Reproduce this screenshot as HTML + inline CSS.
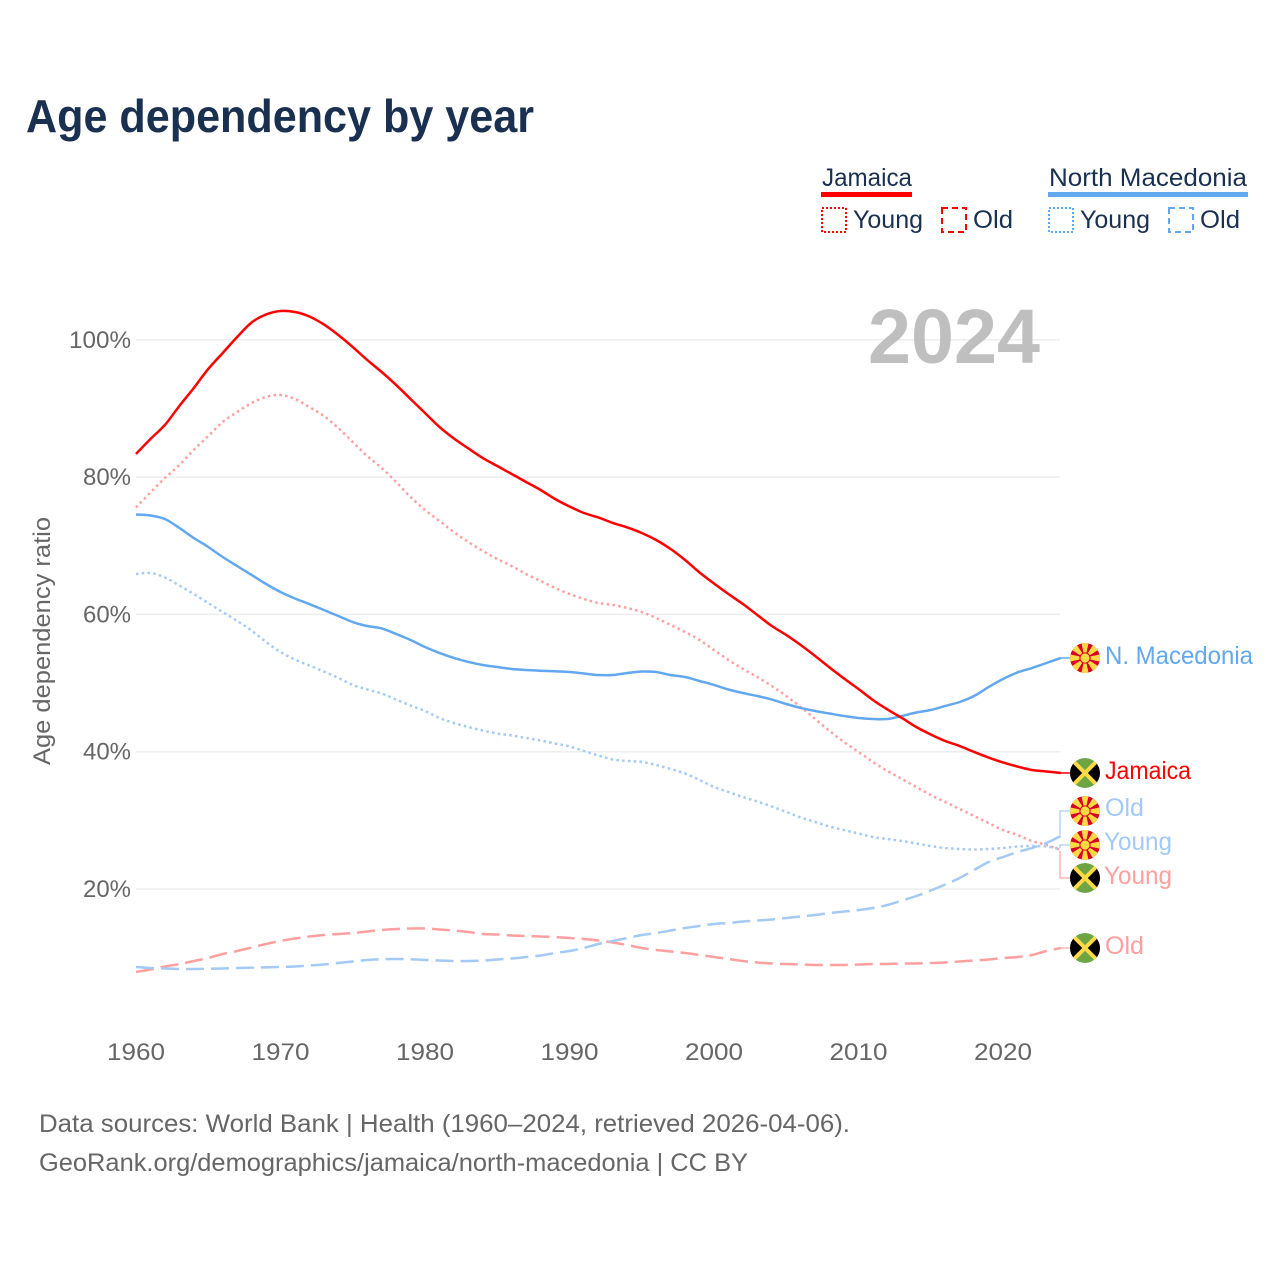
<!DOCTYPE html>
<html lang="en">
<head>
<meta charset="utf-8">
<title>Age dependency by year</title>
<style>
html,body{margin:0;padding:0;background:#fff}
svg{display:block}
text{font-family:"Liberation Sans",sans-serif}
</style>
</head>
<body>
<svg id="chart" xmlns="http://www.w3.org/2000/svg" width="1280" height="1280" viewBox="0 0 1280 1280">
<defs>
<clipPath id="flag-clip"><circle cx="0" cy="0" r="15"/></clipPath>
<g id="flag-mk" clip-path="url(#flag-clip)">
<circle r="15" fill="#d80027"/>
<g fill="#ffda44">
<polygon points="-1.2,-4 1.2,-4 3.8,-16 -3.8,-16"/>
<polygon points="-1.2,-4 1.2,-4 3.8,-16 -3.8,-16" transform="rotate(45)"/>
<polygon points="-1.2,-4 1.2,-4 3.8,-16 -3.8,-16" transform="rotate(90)"/>
<polygon points="-1.2,-4 1.2,-4 3.8,-16 -3.8,-16" transform="rotate(135)"/>
<polygon points="-1.2,-4 1.2,-4 3.8,-16 -3.8,-16" transform="rotate(180)"/>
<polygon points="-1.2,-4 1.2,-4 3.8,-16 -3.8,-16" transform="rotate(225)"/>
<polygon points="-1.2,-4 1.2,-4 3.8,-16 -3.8,-16" transform="rotate(270)"/>
<polygon points="-1.2,-4 1.2,-4 3.8,-16 -3.8,-16" transform="rotate(315)"/>
</g>
<circle r="5.6" fill="#d80027"/>
<circle r="4.6" fill="#ffda44"/>
</g>
<g id="flag-jm" clip-path="url(#flag-clip)">
<circle r="15" fill="#6da544"/>
<polygon points="-16,-14 0,0 -16,14" fill="#000"/>
<polygon points="16,-14 0,0 16,14" fill="#000"/>
<line x1="-11" y1="-11" x2="11" y2="11" stroke="#ffda44" stroke-width="4"/>
<line x1="-11" y1="11" x2="11" y2="-11" stroke="#ffda44" stroke-width="4"/>
</g>
</defs>

<text x="26" y="132" font-size="46" font-weight="700" fill="#1a3050" textLength="508" lengthAdjust="spacingAndGlyphs">Age dependency by year</text>

<g font-size="25" fill="#1a3050">
<text x="822" y="186" textLength="90" lengthAdjust="spacingAndGlyphs">Jamaica</text>
<rect x="821" y="192" width="91" height="5" fill="#ff0000"/>
<rect x="822" y="208" width="24" height="24" fill="none" stroke="#ff0000" stroke-width="2" stroke-dasharray="2 2"/>
<text x="853" y="228" textLength="70" lengthAdjust="spacingAndGlyphs">Young</text>
<rect x="942" y="208" width="24" height="24" fill="none" stroke="#ff0000" stroke-width="2" stroke-dasharray="6 4"/>
<text x="973" y="228" textLength="40" lengthAdjust="spacingAndGlyphs">Old</text>
<text x="1049" y="186" textLength="198" lengthAdjust="spacingAndGlyphs">North Macedonia</text>
<rect x="1048" y="192" width="200" height="5" fill="#62a8ee"/>
<rect x="1049" y="208" width="24" height="24" fill="none" stroke="#62a8ee" stroke-width="2" stroke-dasharray="2 2"/>
<text x="1080" y="228" textLength="70" lengthAdjust="spacingAndGlyphs">Young</text>
<rect x="1169" y="208" width="24" height="24" fill="none" stroke="#62a8ee" stroke-width="2" stroke-dasharray="6 4"/>
<text x="1200" y="228" textLength="40" lengthAdjust="spacingAndGlyphs">Old</text>
</g>

<g id="grid"></g>
<g id="y-ticks"></g>
<g id="x-ticks"></g>

<text x="868" y="363" font-size="77" font-weight="700" fill="#bfbfbf" textLength="172" lengthAdjust="spacingAndGlyphs">2024</text>
<text transform="translate(50,765) rotate(-90)" x="0" y="0" font-size="24" fill="#666" textLength="248" lengthAdjust="spacingAndGlyphs">Age dependency ratio</text>

<g id="series"></g>

<g fill="none" stroke-width="1.5">
<path d="M1060 658H1072" stroke="#62a8ee"/>
<path d="M1060 773H1072" stroke="#ff0000"/>
<path d="M1060 835V811H1072" stroke="#b5d5f7"/>
<path d="M1060 848V845H1072" stroke="#b5d5f7"/>
<path d="M1060 851V878H1072" stroke="#ffb5b5"/>
<path d="M1060 948H1072" stroke="#ffb5b5"/>
</g>

<g font-size="25">
<use href="#flag-mk" x="1085" y="658"/>
<text x="1105" y="664" fill="#62a8ee" textLength="148" lengthAdjust="spacingAndGlyphs">N. Macedonia</text>
<use href="#flag-jm" x="1085" y="773"/>
<text x="1105" y="779" fill="#ff0000" textLength="86" lengthAdjust="spacingAndGlyphs">Jamaica</text>
<use href="#flag-mk" x="1085" y="811"/>
<text x="1105" y="816" fill="#a3caf4" textLength="39" lengthAdjust="spacingAndGlyphs">Old</text>
<use href="#flag-mk" x="1085" y="845"/>
<text x="1104" y="850" fill="#a3caf4" textLength="68" lengthAdjust="spacingAndGlyphs">Young</text>
<use href="#flag-jm" x="1085" y="878"/>
<text x="1104" y="884" fill="#ff9f9f" textLength="68" lengthAdjust="spacingAndGlyphs">Young</text>
<use href="#flag-jm" x="1085" y="948"/>
<text x="1105" y="954" fill="#ff9f9f" textLength="39" lengthAdjust="spacingAndGlyphs">Old</text>
</g>

<g font-size="25" fill="#666">
<text x="39" y="1132" textLength="811" lengthAdjust="spacingAndGlyphs">Data sources: World Bank | Health (1960–2024, retrieved 2026-04-06).</text>
<text x="39" y="1171" textLength="709" lengthAdjust="spacingAndGlyphs">GeoRank.org/demographics/jamaica/north-macedonia | CC BY</text>
</g>
</svg>

<script>
const startYear = 1960;

const jamaicaTotal = [
83.37,85.55,87.6,90.36,92.98,95.75,98.08,100.41,102.52,103.69,
104.2,104.05,103.39,102.23,100.7,98.95,97.06,95.31,93.42,91.38,
89.34,87.3,85.62,84.17,82.78,81.62,80.45,79.29,78.12,76.81,
75.72,74.77,74.12,73.32,72.66,71.86,70.84,69.53,67.92,66.1,
64.5,62.97,61.51,59.91,58.31,57.0,55.54,53.94,52.27,50.66,
49.13,47.53,46.15,44.91,43.6,42.51,41.56,40.83,39.96,39.15,
38.43,37.84,37.33,37.12,36.9];

const jamaicaYoung = [
75.57,77.76,79.87,81.76,83.95,85.99,88.03,89.48,90.79,91.67,
91.96,91.38,90.21,88.9,87.15,85.11,83.07,81.33,79.29,77.1,
75.21,73.61,72.0,70.55,69.24,68.07,67.05,65.88,64.87,63.85,
62.97,62.24,61.66,61.37,60.93,60.35,59.48,58.46,57.44,56.27,
54.81,53.36,52.05,50.88,49.57,48.11,46.51,44.76,43.02,41.41,
39.96,38.5,37.19,36.02,34.86,33.69,32.67,31.65,30.63,29.61,
28.59,27.87,26.99,26.41,25.68];

const jamaicaOld = [
7.91,8.27,8.71,9.07,9.51,9.95,10.53,10.97,11.48,11.99,
12.43,12.79,13.08,13.3,13.45,13.59,13.81,14.03,14.17,14.25,
14.25,14.1,13.95,13.74,13.45,13.37,13.23,13.15,13.08,13.01,
12.86,12.72,12.5,12.21,11.84,11.41,11.11,10.9,10.68,10.39,
10.09,9.8,9.51,9.29,9.15,9.07,9.0,8.93,8.93,8.93,
9.0,9.07,9.07,9.15,9.15,9.22,9.29,9.44,9.58,9.73,
9.95,10.09,10.39,10.97,11.41];

const macedoniaTotal = [
74.55,74.41,73.9,72.59,71.13,69.82,68.36,67.05,65.74,64.43,
63.26,62.32,61.51,60.64,59.77,58.89,58.31,57.95,57.15,56.27,
55.25,54.38,53.65,53.07,52.63,52.34,52.05,51.9,51.8,51.71,
51.61,51.39,51.17,51.17,51.46,51.68,51.61,51.17,50.88,50.3,
49.72,49.06,48.55,48.11,47.6,46.95,46.37,45.93,45.56,45.2,
44.91,44.76,44.76,45.2,45.71,46.07,46.66,47.24,48.11,49.42,
50.59,51.54,52.19,52.92,53.65];

const macedoniaYoung = [
65.88,66.03,65.38,64.21,62.97,61.66,60.35,59.04,57.65,55.98,
54.52,53.43,52.56,51.68,50.74,49.72,49.06,48.48,47.6,46.73,
45.93,44.91,44.18,43.6,43.09,42.65,42.36,42.0,41.63,41.19,
40.76,40.1,39.45,38.86,38.65,38.5,38.06,37.48,36.82,35.88,
34.86,34.13,33.4,32.75,32.02,31.22,30.42,29.76,29.1,28.59,
28.08,27.57,27.28,26.99,26.63,26.26,25.97,25.83,25.75,25.83,
25.97,26.19,26.26,26.19,25.83];

const macedoniaOld = [
8.64,8.49,8.42,8.35,8.35,8.38,8.42,8.49,8.54,8.59,
8.64,8.71,8.86,9.0,9.22,9.44,9.66,9.76,9.8,9.76,
9.66,9.58,9.51,9.51,9.58,9.73,9.88,10.09,10.31,10.68,
10.97,11.41,11.99,12.43,12.86,13.3,13.59,13.95,14.32,14.61,
14.9,15.05,15.27,15.41,15.56,15.78,15.99,16.21,16.5,16.72,
16.94,17.23,17.67,18.32,18.98,19.78,20.66,21.6,22.77,23.93,
24.66,25.39,25.97,26.7,27.72];

const yTickValues = [20, 40, 60, 80, 100];
const yTickLabels = ["20%", "40%", "60%", "80%", "100%"];
const xTickValues = [1960, 1970, 1980, 1990, 2000, 2010, 2020];
const xTickLabels = ["1960", "1970", "1980", "1990", "2000", "2010", "2020"];

const NS = "http://www.w3.org/2000/svg";
function xScale(year) { return 136 + (year - 1960) * 14.45; }
function yScale(v) { return 1026.3 - v * 6.865; }

const gridGroup = document.getElementById("grid");
const yTickGroup = document.getElementById("y-ticks");
const xTickGroup = document.getElementById("x-ticks");
const seriesGroup = document.getElementById("series");

yTickValues.forEach(function (v, i) {
  const line = document.createElementNS(NS, "line");
  
  
  line.setAttribute("x1", 136);
  line.setAttribute("x2", 1060);
  line.setAttribute("y1", yScale(v));
  line.setAttribute("y2", yScale(v));
  line.setAttribute("stroke", "#eeeeee");
  line.setAttribute("stroke-width", 1.5);
  gridGroup.appendChild(line);

  const t = document.createElementNS(NS, "text");
  
  
  t.setAttribute("x", 131);
  t.setAttribute("y", yScale(v) + 8);
  t.setAttribute("text-anchor", "end");
  t.setAttribute("font-size", 24);
  t.setAttribute("fill", "#666");
  t.setAttribute("textLength", yTickLabels[i].length === 4 ? 62 : 48);
  t.setAttribute("lengthAdjust", "spacingAndGlyphs");
  t.textContent = yTickLabels[i];
  yTickGroup.appendChild(t);
});

xTickValues.forEach(function (yr, i) {
  const t = document.createElementNS(NS, "text");
  
  
  t.setAttribute("x", xScale(yr));
  t.setAttribute("y", 1060);
  t.setAttribute("text-anchor", "middle");
  t.setAttribute("font-size", 24);
  t.setAttribute("fill", "#666");
  t.setAttribute("textLength", 58);
  t.setAttribute("lengthAdjust", "spacingAndGlyphs");
  t.textContent = xTickLabels[i];
  xTickGroup.appendChild(t);
});

function smoothPath(values) {
  const pts = values.map(function (v, i) {
    return [xScale(startYear + i), yScale(v)];
  });
  let d = "M" + pts[0][0].toFixed(2) + " " + pts[0][1].toFixed(2);
  for (let i = 0; i < pts.length - 1; i++) {
    const p0 = pts[Math.max(i - 1, 0)];
    const p1 = pts[i];
    const p2 = pts[i + 1];
    const p3 = pts[Math.min(i + 2, pts.length - 1)];
    const c1x = p1[0] + (p2[0] - p0[0]) / 6;
    const c1y = p1[1] + (p2[1] - p0[1]) / 6;
    const c2x = p2[0] - (p3[0] - p1[0]) / 6;
    const c2y = p2[1] - (p3[1] - p1[1]) / 6;
    d += "C" + c1x.toFixed(2) + " " + c1y.toFixed(2) + " " + c2x.toFixed(2) + " " + c2y.toFixed(2) + " " + p2[0].toFixed(2) + " " + p2[1].toFixed(2);
  }
  return d;
}

function drawSeries(values, name, color, dash) {
  const p = document.createElementNS(NS, "path");
  
  
  p.setAttribute("d", smoothPath(values));
  p.setAttribute("fill", "none");
  p.setAttribute("stroke", color);
  p.setAttribute("stroke-width", 2.5);
  p.setAttribute("stroke-linejoin", "round");
  if (dash) p.setAttribute("stroke-dasharray", dash);
  seriesGroup.appendChild(p);
}

drawSeries(jamaicaOld, "line-jamaica-old", "#ff9f9f", "18 7");
drawSeries(macedoniaOld, "line-north-macedonia-old", "#a3caf4", "18 7");
drawSeries(jamaicaYoung, "line-jamaica-young", "#ff9f9f", "2.5 3.3");
drawSeries(macedoniaYoung, "line-north-macedonia-young", "#a3caf4", "2.5 3.3");
drawSeries(macedoniaTotal, "line-north-macedonia-total", "#62a8ee", null);
drawSeries(jamaicaTotal, "line-jamaica-total", "#ff0000", null);
</script>
</body>
</html>
